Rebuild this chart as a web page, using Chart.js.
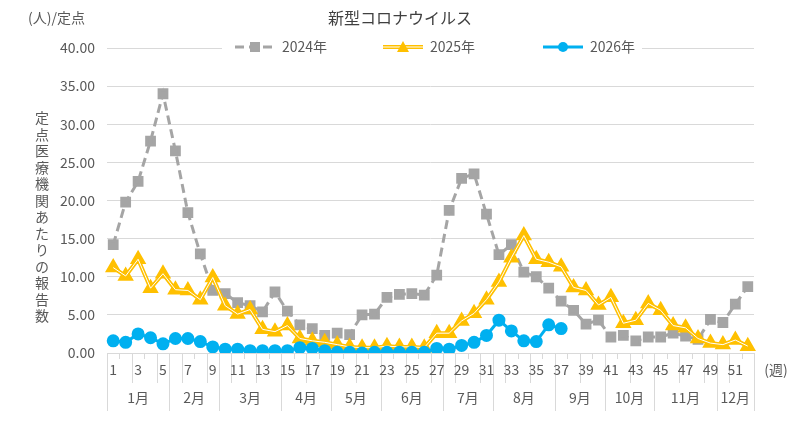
<!DOCTYPE html>
<html><head><meta charset="utf-8">
<script src="https://cdn.jsdelivr.net/npm/chart.js@4"></script>
<style>html,body{margin:0;padding:0;background:#fff}#w{width:800px;height:422px}</style>
</head><body><div id="w"><canvas id="c" width="800" height="422"></canvas></div>
<script>
const weeks = Array.from({length:52},(_,i)=>String(i+1));
const data2024 = [14.2,19.8,22.5,27.8,34.0,26.5,18.4,13.0,8.2,7.8,6.6,6.2,5.4,8.0,5.5,3.7,3.2,2.3,2.6,2.4,5.0,5.1,7.3,7.7,7.8,7.6,10.2,18.7,22.9,23.5,18.2,12.9,14.2,10.6,10.0,8.5,6.8,5.6,3.8,4.3,2.1,2.3,1.6,2.1,2.1,2.6,2.2,1.8,4.4,4.0,6.4,8.7];
const data2025 = [11.2,10.1,12.3,8.5,10.4,8.3,8.2,7.0,9.9,6.2,5.1,5.7,3.1,2.8,3.6,1.9,1.6,1.4,1.1,0.8,0.7,0.7,0.9,0.8,0.8,0.7,2.6,2.6,4.2,5.2,7.0,9.3,12.5,15.4,12.3,11.9,11.3,8.6,8.2,6.3,7.3,3.9,4.3,6.5,5.6,3.6,3.3,1.9,1.3,1.1,1.7,0.9];
const data2026 = [1.6,1.4,2.5,2.0,1.2,1.9,1.9,1.5,0.8,0.5,0.5,0.3,0.3,0.3,0.3,0.7,0.6,0.3,0.1,0.1,0.0,0.1,0.1,0.1,0.1,0.1,0.6,0.5,1.0,1.4,2.3,4.3,2.9,1.6,1.5,3.7,3.2];
const months = ['1月','2月','3月','4月','5月','6月','7月','8月','9月','10月','11月','12月'];
const monthEnds = [5,9,14,18,22,27,31,36,40,44,49,52];
const yTicks = [0,5,10,15,20,25,30,35,40];
const seriesNames = ['2024年','2025年','2026年'];
const GRAY='#A5A5A5', YEL='#FFC000', BLUE='#00B0F0', TXT='#595959', FONT='"Noto Sans CJK JP", "Noto Sans", sans-serif';

const deco = {
  id:'deco',
  afterDraw(ch){
    const c=ch.ctx, x=ch.scales.x, a=ch.chartArea;
    const step=x.getPixelForValue(1)-x.getPixelForValue(0);
    const edge=i=>x.getPixelForValue(0)-step/2+i*step;
    c.save();
    c.strokeStyle='#D9D9D9'; c.lineWidth=1;
    for(let i=0;i<=52;i++){
      const px=Math.round(edge(i))+0.5;
      c.beginPath(); c.moveTo(px,a.bottom); c.lineTo(px,a.bottom+(i%2===1?6:30)); c.stroke();
    }
    const ends=[0,...monthEnds];
    for(const e of ends){const px=Math.round(edge(e))+0.5;c.beginPath();c.moveTo(px,a.bottom);c.lineTo(px,a.bottom+58);c.stroke();}
    c.fillStyle=TXT; c.font='14px '+FONT; c.textAlign='center'; c.textBaseline='middle';
    weeks.forEach((w,i)=>{ if(i%2===0) c.fillText(w,x.getPixelForValue(i),a.bottom+17); });
    months.forEach((m,i)=>{ const cx=(edge(ends[i])+edge(ends[i+1]))/2; c.fillText(m,cx,a.bottom+45); });
    c.fillText('(週)',a.right+22,a.bottom+17);
    c.font='14px '+FONT; c.textAlign='left'; c.fillText('(人)/定点',28,18);
    c.font='16px '+FONT; c.textAlign='center'; c.fillStyle='#404040'; c.fillText('新型コロナウイルス',400,18);
    c.fillStyle=TXT; c.font='14px '+FONT;
    const t='定点医療機関あたりの報告数';
    [...t].forEach((ch2,i)=>c.fillText(ch2,42,118+i*16.5));
    c.fillStyle='#fff'; c.fillRect(222,38,420,20);
    const items=[[235,GRAY,'sq'],[383,YEL,'tri'],[543,BLUE,'dot']];
    items.forEach(([lx,col,k],i)=>{
      const y=47;
      c.lineWidth=k==='tri'?4:3; c.strokeStyle=col;
      if(k==='sq') c.setLineDash([9,5]); else c.setLineDash([]);
      c.beginPath(); c.moveTo(lx,y); c.lineTo(lx+40,y); c.stroke(); c.setLineDash([]);
      if(k==='tri'){c.lineWidth=1;c.strokeStyle='#fff';c.beginPath();c.moveTo(lx,y);c.lineTo(lx+40,y);c.stroke();}
      c.fillStyle=col; const mx=lx+20;
      if(k==='sq') c.fillRect(mx-5,y-5,10,10);
      else if(k==='tri'){c.beginPath();c.moveTo(mx,y-6);c.lineTo(mx+6,y+5);c.lineTo(mx-6,y+5);c.closePath();c.fill();}
      else {c.beginPath();c.arc(mx,y,5,0,Math.PI*2);c.fill();}
      c.fillStyle=TXT; c.font='14px '+FONT; c.textAlign='left'; c.fillText(seriesNames[i],lx+47,y);
    });
    c.restore();
  }
};

new Chart(document.getElementById('c'),{
  type:'line',
  data:{labels:weeks,datasets:[
    {label:seriesNames[0],order:3,data:data2024,borderColor:GRAY,backgroundColor:GRAY,borderWidth:3,borderDash:[9,5],pointStyle:'rect',pointRadius:5.5,pointHoverRadius:5.5,tension:0},
    {label:seriesNames[1],order:2,data:data2025,borderColor:YEL,backgroundColor:YEL,borderWidth:4,pointStyle:'triangle',pointRadius:5.5,pointHoverRadius:5.5,tension:0},
    {label:'_w',order:1,data:data2025,borderColor:'#fff',borderWidth:1,pointRadius:0,tension:0},
    {label:seriesNames[2],order:0,data:data2026,borderColor:BLUE,backgroundColor:BLUE,borderWidth:3,pointStyle:'circle',pointRadius:5,pointHoverRadius:5,tension:0}
  ]},
  plugins:[deco],
  options:{
    responsive:false,animation:false,devicePixelRatio:1,
    layout:{padding:{top:48,right:46,bottom:0,left:0}},
    plugins:{legend:{display:false},tooltip:{enabled:false}},
    elements:{point:{borderWidth:0}},
    scales:{
      x:{offset:true,ticks:{display:false},grid:{display:false},border:{color:'#D9D9D9'},afterFit(s){s.height=69;}},
      y:{min:0,max:40,afterBuildTicks(s){s.ticks=yTicks.map(v=>({value:v}));},
         ticks:{color:TXT,font:{size:14,family:FONT},callback:v=>v.toFixed(2),padding:12},
         grid:{color:'#D9D9D9',drawTicks:false},border:{display:false},afterFit(s){s.width=107;}}
    }
  }
});
</script></body></html>
